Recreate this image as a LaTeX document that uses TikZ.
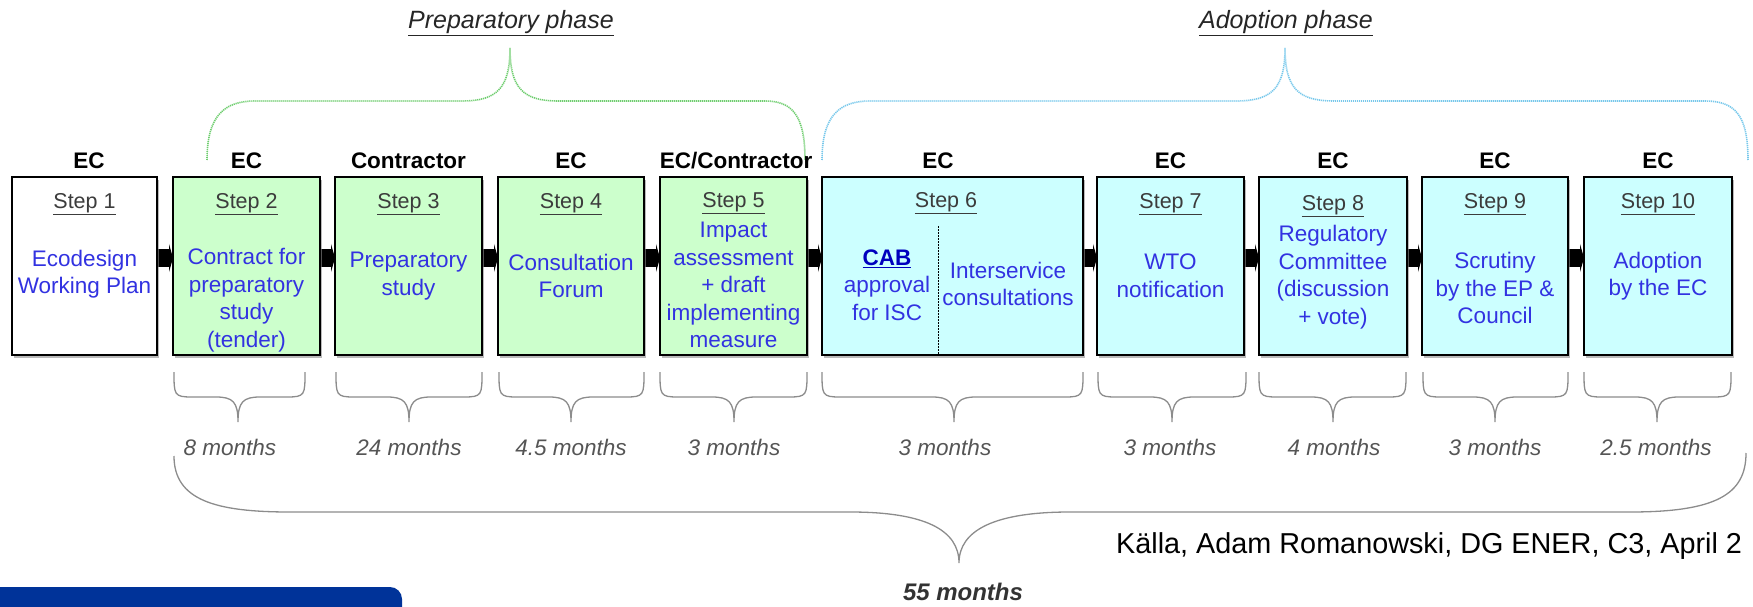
\documentclass[tikz,border=0pt]{standalone}
\usepackage{fontspec}
\setmainfont{Liberation Sans}
\usetikzlibrary{arrows.meta,shadows}
\definecolor{txtblue}{RGB}{50,50,225}
\definecolor{cabblue}{RGB}{0,0,190}
\definecolor{greenfill}{RGB}{204,255,204}
\definecolor{cyanfill}{RGB}{204,255,255}
\definecolor{eublue}{RGB}{0,51,153}
\definecolor{phgreen}{RGB}{110,205,110}
\definecolor{phblue}{RGB}{120,200,235}
\definecolor{bracegray}{RGB}{140,140,140}
\definecolor{stepgray}{RGB}{60,60,60}
\definecolor{monthgray}{RGB}{85,85,85}
\pgfdeclarelayer{bg}
\pgfsetlayers{bg,main}
\newcommand{\bodyfont}{\fontsize{22.5}{27.5}\selectfont}
\newcommand{\lowbrace}[3]{%
  \draw[smallbrace] (#1,372) .. controls (#1,395) and (#1,397) .. (#1+18,397) -- (#3-22,397)
    .. controls (#3-5,397) and (#3,402) .. (#3,422)
    .. controls (#3,402) and (#3+5,397) .. (#3+22,397) -- (#2-18,397)
    .. controls (#2,397) and (#2,395) .. (#2,372);}
\tikzset{
  stepbox/.style={draw=black, line width=2.2pt, inner sep=0pt, outer sep=0pt,
    minimum height=178pt, minimum width=#1,
    drop shadow={shadow xshift=2pt, shadow yshift=-2.5pt, fill=black!45, opacity=0.6}},
  greenbox/.style={stepbox=#1, fill=greenfill},
  cyanbox/.style={stepbox=#1, fill=cyanfill},
  whitebox/.style={stepbox=#1, fill=white},
  actor/.style={font=\bodyfont\bfseries, text=black, inner sep=0pt},
  steplabel/.style={font=\fontsize{21.5}{25}\selectfont, text=stepgray, inner sep=0pt},
  boxtext/.style={font=\bodyfont, text=txtblue, align=center, inner sep=0pt},
  conn/.style={line width=18pt, black, -{Triangle[width=28pt,length=4pt]}},
  smallbrace/.style={draw=bracegray, line width=1.3pt},
  monthtext/.style={font=\bodyfont\itshape, text=monthgray, inner sep=0pt},
  phasetitle/.style={font=\fontsize{25}{29}\selectfont\itshape, text=black!85, inner sep=0pt},
  greenphase/.style={draw=phgreen, line width=1.6pt, dash pattern=on 1.2pt off 0.8pt},
  bluephase/.style={draw=phblue, line width=1.6pt, dash pattern=on 1.2pt off 0.8pt},
}
\begin{document}
\begin{tikzpicture}[x=1pt,y=-1pt]
\useasboundingbox (0,0) rectangle (1753,607);

% phase titles
\node[phasetitle] (ptitle) at (511,23) {\underline{Preparatory phase}};
\node[phasetitle] (atitle) at (1286,23) {\underline{Adoption phase}};

% phase braces
\draw[greenphase] (207,160) .. controls (207,115) and (225,101) .. (255,101) -- (462,101)
  .. controls (497,101) and (510,88) .. (510,48)
  .. controls (510,88) and (523,101) .. (558,101) -- (765,101)
  .. controls (792,101) and (805,115) .. (805,160);
\draw[bluephase] (822,160) .. controls (822,115) and (840,101) .. (870,101) -- (1236,101)
  .. controls (1272,101) and (1285,88) .. (1285,48)
  .. controls (1285,88) and (1298,101) .. (1334,101) -- (1705,101)
  .. controls (1735,101) and (1748,115) .. (1748,160);

% boxes
\node[whitebox=145pt] (b1) at (84.5,266) {};
\node[greenbox=147pt] (b2) at (246.5,266) {};
\node[greenbox=147pt] (b3) at (408.5,266) {};
\node[greenbox=146pt] (b4) at (571,266) {};
\node[greenbox=147pt] (b5) at (733.5,266) {};
\node[cyanbox=261pt] (b6) at (952.5,266) {};
\node[cyanbox=147pt] (b7) at (1170.5,266) {};
\node[cyanbox=148pt] (b8) at (1333,266) {};
\node[cyanbox=146pt] (b9) at (1495,266) {};
\node[cyanbox=148pt] (b10) at (1658,266) {};

% connectors
\coordinate (cy) at (0,258);
\begin{pgfonlayer}{bg}
\draw[conn] (b1.east |- cy) -- (b2.west |- cy);
\draw[conn] (b2.east |- cy) -- (b3.west |- cy);
\draw[conn] (b3.east |- cy) -- (b4.west |- cy);
\draw[conn] (b4.east |- cy) -- (b5.west |- cy);
\draw[conn] (b5.east |- cy) -- (b6.west |- cy);
\draw[conn] (b6.east |- cy) -- (b7.west |- cy);
\draw[conn] (b7.east |- cy) -- (b8.west |- cy);
\draw[conn] (b8.east |- cy) -- (b9.west |- cy);
\draw[conn] (b9.east |- cy) -- (b10.west |- cy);
\end{pgfonlayer}

% actors
\node[actor] (a1) at (89,161) {EC};
\node[actor] (a2) at (246.5,161) {EC};
\node[actor] (a3) at (408.5,161) {Contractor};
\node[actor] (a4) at (571,161) {EC};
\node[actor] (a5) at (736,161) {EC/Contractor};
\node[actor] (a6) at (938,161) {EC};
\node[actor] (a7) at (1170.5,161) {EC};
\node[actor] (a8) at (1333,161) {EC};
\node[actor] (a9) at (1495,161) {EC};
\node[actor] (a10) at (1658,161) {EC};

% step labels
\node[steplabel] (s1) at (84.5,204) {\underline{Step 1}};
\node[steplabel] (s2) at (246.5,204) {\underline{Step 2}};
\node[steplabel] (s3) at (408.5,204) {\underline{Step 3}};
\node[steplabel] (s4) at (571,204) {\underline{Step 4}};
\node[steplabel] (s5) at (733.5,203) {\underline{Step 5}};
\node[steplabel] (s6) at (946,203) {\underline{Step 6}};
\node[steplabel] (s7) at (1170.5,204) {\underline{Step 7}};
\node[steplabel] (s8) at (1333,206) {\underline{Step 8}};
\node[steplabel] (s9) at (1495,204) {\underline{Step 9}};
\node[steplabel] (s10) at (1658,204) {\underline{Step 10}};

% box texts
\node[boxtext] (t1) at (84.5,274) {Ecodesign\\Working Plan};
\node[boxtext] (t2) at (246.5,300) {Contract for\\preparatory\\study\\(tender)};
\node[boxtext] (t3) at (408.5,276) {Preparatory\\study};
\node[boxtext] (t4) at (571,276) {Consultation\\Forum};
\node[boxtext] (t5) at (733.5,285) {Impact\\assessment\\+ draft\\implementing\\measure};
\node[boxtext] (t6a) at (887,285) {{\color{cabblue}\bfseries\underline{CAB}}\\approval\\for ISC};
\node[boxtext] (t6b) at (1008,284) {Interservice\\consultations};
\node[boxtext] (t7) at (1170.5,276) {WTO\\notification};
\node[boxtext] (t8) at (1333,277) {Regulatory\\Committee\\(discussion\\+ vote)};
\node[boxtext] (t9) at (1495,288) {Scrutiny\\by the EP \&\\Council};
\node[boxtext] (t10) at (1658,276) {Adoption\\by the EC};
\draw[black, line width=1pt, dash pattern=on 1.5pt off 1.5pt] (938,226) -- (938,354);

% step duration braces
\lowbrace{174}{305}{238}
\lowbrace{336}{482}{409}
\lowbrace{499}{644}{571}
\lowbrace{660}{807}{734}
\lowbrace{822}{1083}{954}
\lowbrace{1098}{1246}{1172}
\lowbrace{1259}{1406}{1333}
\lowbrace{1423}{1568}{1495}
\lowbrace{1584}{1731}{1657}

\node[monthtext] (m2) at (230,447) {8 months};
\node[monthtext] (m3) at (409,447) {24 months};
\node[monthtext] (m4) at (571,447) {4.5 months};
\node[monthtext] (m5) at (734,447) {3 months};
\node[monthtext] (m6) at (945,447) {3 months};
\node[monthtext] (m7) at (1170,447) {3 months};
\node[monthtext] (m8) at (1334,447) {4 months};
\node[monthtext] (m9) at (1495,447) {3 months};
\node[monthtext] (m10) at (1656,447) {2.5 months};

% overall brace
\draw[smallbrace] (174,456) .. controls (174,500) and (215,512) .. (290,512) -- (850,512)
  .. controls (925,512) and (959,530) .. (959,563)
  .. controls (959,530) and (995,512) .. (1070,512) -- (1630,512)
  .. controls (1715,512) and (1746,495) .. (1746,453);
\node[monthtext, font=\fontsize{24}{28}\selectfont\bfseries\itshape, text=black!80] (m55) at (963,592) {55 months};

% source line
\node[font=\fontsize{28.8}{33}\selectfont, text=black, anchor=west, inner sep=0pt] (src) at (1116,546) {Källa, Adam Romanowski, DG ENER, C3, April 2};

% blue bar
\fill[eublue] (0,587) rectangle (390,620);
\fill[eublue, rounded corners=12pt] (300,587) rectangle (402,640);
\end{tikzpicture}
\end{document}
